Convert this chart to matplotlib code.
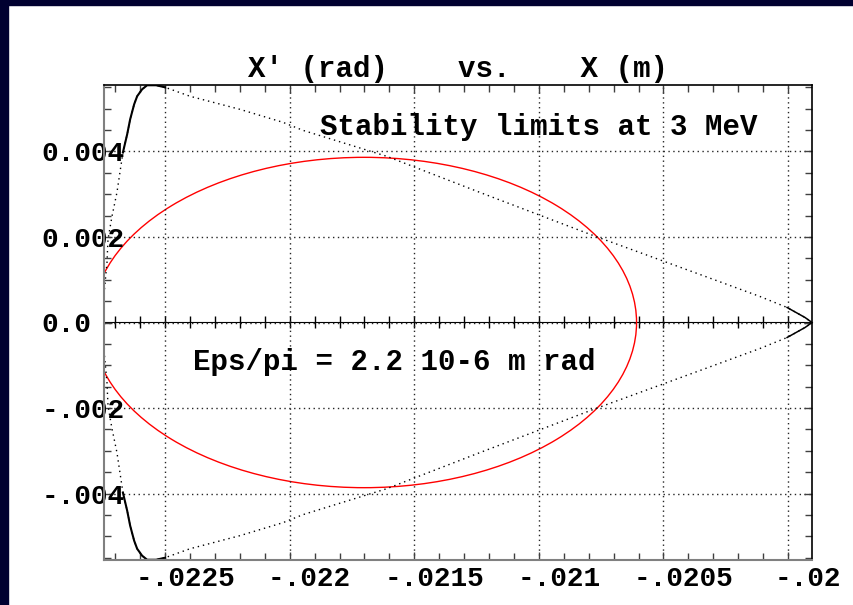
import numpy as np
import matplotlib.pyplot as plt
from matplotlib.patches import Ellipse, Rectangle
from matplotlib.ticker import MultipleLocator
import matplotlib.transforms as mtransforms

# Separatrix, upper branch (x in m, x' in rad) -----------------------------
sep_x = [-0.022745, -0.022733, -0.022729, -0.022713, -0.022693, -0.022669,
         -0.022652, -0.022640, -0.022624, -0.022612, -0.022592, -0.022572,
         -0.022536, -0.022500, -0.022400, -0.022200, -0.022027, -0.021947,
         -0.021610, -0.021237, -0.020783, -0.020354, -0.020113, -0.020004,
         -0.019932, -0.019904]
sep_y = [0.000655, 0.001404, 0.001942, 0.002480, 0.003041, 0.003977,
         0.004398, 0.004749, 0.005099, 0.005287, 0.005450, 0.005544,
         0.005544, 0.005497, 0.005287, 0.004982, 0.004678, 0.004491,
         0.003883, 0.003041, 0.002035, 0.001123, 0.000608, 0.000351,
         0.000117, 0.0]
# solid (dense) parts: around the peak and close to the fixed point
solid_from, solid_to = 5, 14
tip_from = 23

# Matched beam ellipse
ell_x0 = -0.021701
ell_y0 = 0.0
ell_a = 0.001093   # half width (m)
ell_b = 0.00386    # half height (rad)

xticks = [-0.0225, -0.022, -0.0215, -0.021, -0.0205, -0.02]
xlabels = ['-.0225', '-.022', '-.0215', '-.021', '-.0205', '-.02']
yticks = [-0.004, -0.002, 0.0, 0.002, 0.004]
ylabels = ['-.004', '-.002', '0.0', '0.002', '0.004']

title = "X' (rad)    vs.    X (m)"
note_top = "Stability limits at 3 MeV"
note_eps = "Eps/pi = 2.2 10-6 m rad"

# Plot ----------------------------------------------------------------
font = {'family': 'Liberation Mono', 'weight': 'bold'}
fig = plt.figure(figsize=(8.54, 6.05), dpi=100)
fig.patches.append(Rectangle((0, 0), 8 / 854, 1, transform=fig.transFigure,
                             color='#000030', zorder=-1))
fig.patches.append(Rectangle((0, 1 - 5 / 605), 1, 5 / 605, transform=fig.transFigure,
                             color='#000030', zorder=-1))
ax = fig.add_axes([104 / 854, 1 - 560 / 605, 708 / 854, 475 / 605])

ax.set_xlim(-0.022745, -0.019904)
ax.set_ylim(-0.00555, 0.00555)

# separatrix: upper and lower (mirrored) branch
ys_low = [-v for v in sep_y]
dots = (0, (1, 2.8))
ax.plot(sep_x, sep_y, color='black', linestyle=dots, lw=1.0)
ax.plot(sep_x, ys_low, color='black', linestyle=dots, lw=1.0)
ax.plot(sep_x[solid_from:solid_to], sep_y[solid_from:solid_to], color='black', lw=1.5)
ax.plot(sep_x[solid_from:solid_to], ys_low[solid_from:solid_to], color='black', lw=1.5)
ax.plot(sep_x[tip_from:], sep_y[tip_from:], color='black', lw=1.1)
ax.plot(sep_x[tip_from:], ys_low[tip_from:], color='black', lw=1.1)

ax.add_patch(Ellipse((ell_x0, ell_y0), 2 * ell_a, 2 * ell_b, fill=False,
                     edgecolor='red', lw=1.0))

# axes, ticks, grid
ax.set_xticks(xticks)
ax.set_xticklabels(xlabels, fontsize=20, **font)
ax.set_yticks(yticks)
ax.set_yticklabels(ylabels, fontsize=20, **font)
ax.xaxis.set_minor_locator(MultipleLocator(0.0001))
ax.yaxis.set_minor_locator(MultipleLocator(0.0005))
ax.tick_params(which='both', direction='in', top=True, right=True, color='0.25')
ax.tick_params(which='major', length=6, width=1)
ax.tick_params(which='minor', length=5, width=1)
ax.tick_params(axis='y', pad=45)
ax.tick_params(axis='x', pad=4)
for lab in ax.get_yticklabels():
    lab.set_horizontalalignment('left')
offset = mtransforms.ScaledTranslation(20 / 100, 0, fig.dpi_scale_trans)
for lab in ax.get_xticklabels():
    lab.set_transform(lab.get_transform() + offset)

ax.grid(which='major', linestyle=(0, (1, 2.5)), color='0.15', lw=1)
for side in ['left', 'bottom']:
    ax.spines[side].set_color('0.5')
    ax.spines[side].set_linewidth(1.5)
for side in ['top', 'right']:
    ax.spines[side].set_color('black')
    ax.spines[side].set_linewidth(1.2)

# x axis through x' = 0
zero = ax.secondary_xaxis(0.5)
zero.spines['bottom'].set_color('black')
zero.spines['bottom'].set_linewidth(1.2)
zero.set_xticks(xticks)
zero.xaxis.set_minor_locator(MultipleLocator(0.0001))
zero.tick_params(which='both', direction='inout', labelbottom=False, labeltop=False,
                 length=8, width=1, color='black')

ax.set_title(title, fontsize=21, pad=6, **font)
ax.text(0.305, 0.912, note_top, transform=ax.transAxes, ha='left', va='center',
        fontsize=21, **font)
ax.text(0.126, 0.417, note_eps, transform=ax.transAxes, ha='left', va='center',
        fontsize=21, **font)

plt.savefig('out.png', dpi=100)
